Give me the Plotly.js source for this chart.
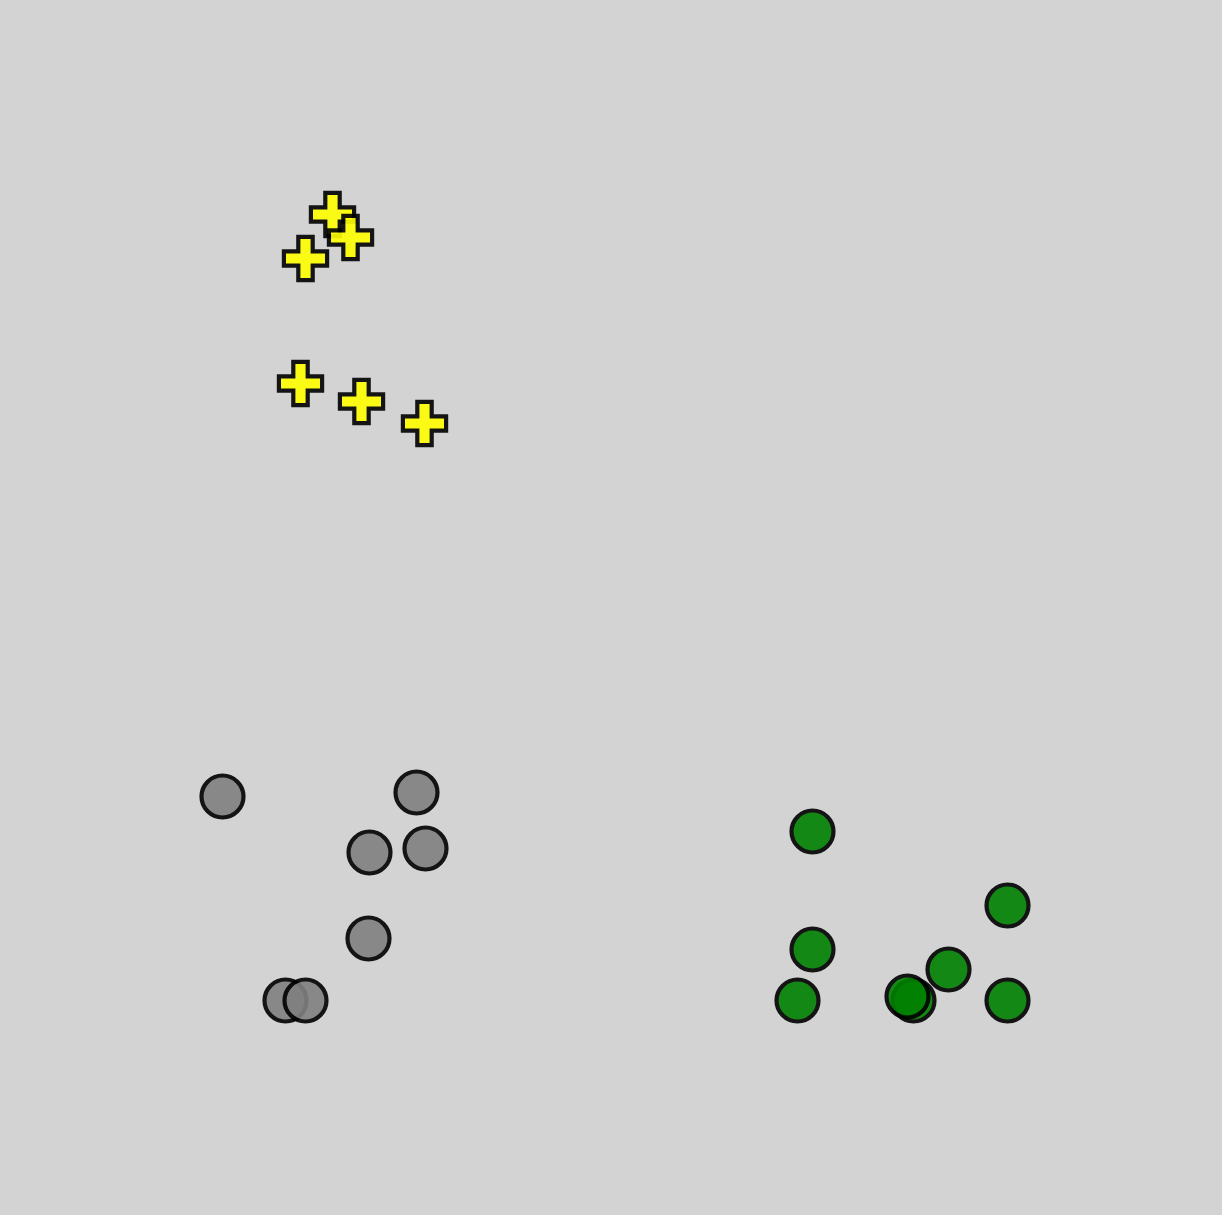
<!DOCTYPE html>
<html>
<head>
<meta charset="utf-8">
<script src="https://cdn.plot.ly/plotly-3.0.1.min.js"></script>
<style>html,body{margin:0;padding:0;background:#d3d3d3;}</style>
</head>
<body>
<div id="chart" style="width:1222px;height:1215px;"></div>
<script>
// Data values
const yellowX = [332, 350, 305, 300, 361, 424];
const yellowY = [1001, 978, 957, 832, 814, 792];
const grayX = [222, 416, 369, 425, 368, 285, 305];
const grayY = [419, 423, 363, 367, 277, 215, 215];
const greenX = [812, 1007, 812, 948, 797, 913, 907, 1007];
const greenY = [384, 310, 266, 246, 215, 215, 219, 215];

const lineStyle = {color: 'black', width: 4.2};

const traces = [
  {x: yellowX, y: yellowY, type: 'scatter', mode: 'markers', name: 'yellow',
   marker: {symbol: 'cross', size: 36, color: 'yellow', opacity: 0.9, line: lineStyle}},
  {x: grayX, y: grayY, type: 'scatter', mode: 'markers', name: 'gray',
   marker: {symbol: 'circle', size: 42, color: 'gray', opacity: 0.9, line: lineStyle}},
  {x: greenX, y: greenY, type: 'scatter', mode: 'markers', name: 'green',
   marker: {symbol: 'circle', size: 42, color: 'green', opacity: 0.9, line: lineStyle}}
];

const layout = {
  width: 1222, height: 1215,
  margin: {l: 0, r: 0, t: 0, b: 0},
  paper_bgcolor: 'lightgray', plot_bgcolor: 'lightgray',
  showlegend: false,
  xaxis: {range: [-0.5, 1221.5], visible: false},
  yaxis: {range: [0.5, 1215.5], visible: false}
};

Plotly.newPlot('chart', traces, layout, {displayModeBar: false});
</script>
</body>
</html>
